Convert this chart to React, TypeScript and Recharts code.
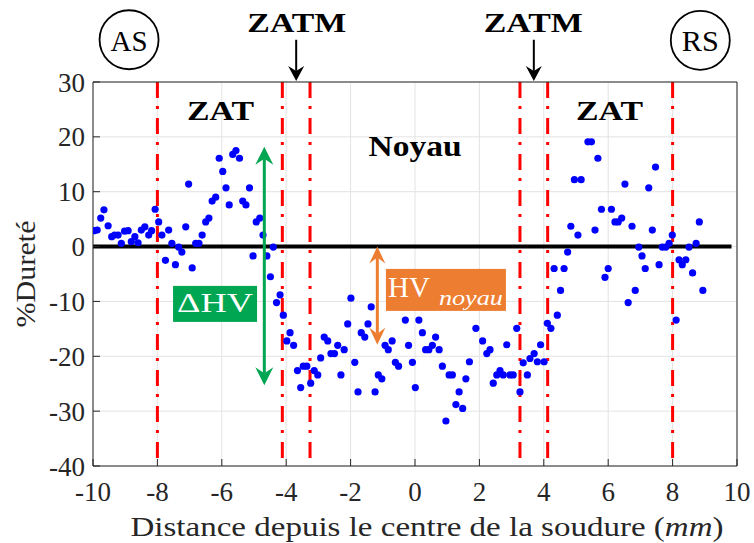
import {
  ScatterChart,
  Scatter,
  XAxis,
  YAxis,
  CartesianGrid,
  ReferenceLine,
  ReferenceDot,
} from "recharts";

// distance from weld centre (mm)
const positions = [
  -9.97, -9.87, -9.76, -9.66, -9.53, -9.42, -9.33, -9.22, -9.12, -9.02,
  -8.91, -8.81, -8.7, -8.6, -8.5, -8.39, -8.27, -8.18, -8.07, -7.96,
  -7.86, -7.75, -7.65, -7.55, -7.44, -7.34, -7.24, -7.12, -7.03, -6.92,
  -6.81, -6.71, -6.61, -6.5, -6.4, -6.3, -6.19, -6.08, -5.97, -5.87,
  -5.77, -5.66, -5.56, -5.45, -5.35, -5.25, -5.14, -5.03, -4.93, -4.82,
  -4.72, -4.6, -4.49, -4.4, -4.3, -4.19, -4.09, -3.98, -3.88, -3.77,
  -3.65, -3.55, -3.47, -3.36, -3.24, -3.13, -3.02, -2.93, -2.82, -2.71,
  -2.61, -2.5, -2.4, -2.3, -2.2, -2.09, -1.99, -1.87, -1.77, -1.67,
  -1.56, -1.46, -1.36, -1.24, -1.14, -1.03, -0.93, -0.83, -0.71, -0.61,
  -0.51, -0.3, -0.2, -0.08, 0.01, 0.12, 0.23, 0.33, 0.43, 0.54,
  0.64, 0.75, 0.85, 0.96, 1.06, 1.16, 1.27, 1.37, 1.48, 1.58,
  1.69, 1.89, 2.1, 2.23, 2.33, 2.43, 2.54, 2.64, 2.74, 2.85,
  2.95, 3.05, 3.16, 3.26, 3.36, 3.49, 3.57, 3.7, 3.8, 3.9,
  4.01, 4.11, 4.22, 4.32, 4.42, 4.52, 4.63, 4.74, 4.84, 4.95,
  5.06, 5.16, 5.37, 5.48, 5.59, 5.68, 5.79, 5.9, 6.0, 6.1,
  6.21, 6.31, 6.42, 6.52, 6.62, 6.74, 6.84, 6.95, 7.05, 7.15,
  7.26, 7.37, 7.47, 7.58, 7.68, 7.79, 7.89, 7.99, 8.11, 8.2,
  8.3, 8.41, 8.51, 8.62, 8.73, 8.83, 8.94,
];

// hardness variation (%)
const hardness = [
  2.9, 3.0, 5.2, 6.7, 3.8, 1.8, 2.1, 2.1, 0.6, 2.8,
  2.9, 0.9, 1.8, 0.7, 3.0, 3.6, 2.1, 2.9, 6.8, 4.5,
  2.1, -2.5, 3.0, 0.6, -3.3, -0.1, -1.0, 3.6, 11.4, -3.9,
  0.6, 0.6, 2.1, 4.5, 5.2, 8.3, 9.0, 16.1, 13.7, 10.7,
  7.6, 16.8, 17.5, 16.1, 8.3, 7.6, 10.7, -1.7, 4.5, 5.2,
  2.1, -1.7, -5.5, -0.1, -10.2, -8.8, -12.5, -17.2, -15.7, -18.0,
  -22.6, -25.7, -21.8, -21.8, -24.9, -22.6, -23.4, -20.3, -16.5, -17.2,
  -19.5, -19.5, -18.0, -23.4, -18.8, -14.1, -9.4, -21.1, -26.5, -15.7,
  -16.5, -14.1, -11.0, -26.5, -23.4, -24.1, -18.0, -18.8, -17.2, -21.1,
  -21.8, -13.4, -18.0, -21.1, -25.7, -13.4, -15.7, -18.8, -18.8, -18.0,
  -16.5, -18.8, -21.8, -31.8, -23.4, -23.4, -28.8, -26.5, -29.5, -24.1,
  -21.0, -14.9, -17.2, -19.5, -18.8, -24.9, -23.4, -22.6, -23.4, -17.9,
  -23.4, -23.4, -14.9, -26.5, -21.2, -23.4, -20.4, -19.5, -21.0, -17.9,
  -21.0, -14.0, -14.9, -4.0, -12.5, -8.0, -4.0, -1.0, 3.7, 12.2,
  2.1, 12.2, 19.1, 19.1, 3.0, 16.1, 6.8, -5.6, -4.0, 6.8,
  4.5, 4.5, 5.2, 11.4, -10.2, 3.7, -8.0, -0.1, -1.7, -4.0,
  10.7, 3.0, 14.5, -3.3, -0.1, -0.1, 0.6, 2.1, -13.4, -2.4,
  -3.3, -2.4, -0.1, -4.8, 0.6, 4.5, -8.0,
];

const xTicks = [-10, -8, -6, -4, -2, 0, 2, 4, 6, 8, 10];
const yTicks = [-40, -30, -20, -10, 0, 10, 20, 30];
const zoneBounds = [-8, -4.12, -3.26, 3.26, 4.12, 8];

const points = positions.map((x, i) => ({ x, y: hardness[i] }));

const FONT = "'Liberation Serif', 'Times New Roman', serif";
const AXIS_COLOR = "#262626";
const GREEN = "#00A651";
const ORANGE = "#ED7D31";

function arrowHead(
  tipX: number,
  tipY: number,
  ux: number,
  uy: number,
  len: number,
  half: number,
  notch: number,
  color: string
) {
  const bx = tipX - ux * len;
  const by = tipY - uy * len;
  const nx = -uy;
  const ny = ux;
  const pts = [
    [tipX, tipY],
    [bx + nx * half, by + ny * half],
    [tipX - ux * notch, tipY - uy * notch],
    [bx - nx * half, by - ny * half],
  ]
    .map((p) => p.join(","))
    .join(" ");
  return <polygon points={pts} fill={color} />;
}

function makeArrow(
  color: string,
  width: number,
  len: number,
  half: number,
  notch: number,
  both: boolean
) {
  return (props: any) => {
    const { x1, y1, x2, y2 } = props;
    const L = Math.hypot(x2 - x1, y2 - y1) || 1;
    const ux = (x2 - x1) / L;
    const uy = (y2 - y1) / L;
    const sx = both ? x1 + ux * notch : x1;
    const sy = both ? y1 + uy * notch : y1;
    return (
      <g>
        <line
          x1={sx}
          y1={sy}
          x2={x2 - ux * notch}
          y2={y2 - uy * notch}
          stroke={color}
          strokeWidth={width}
        />
        {arrowHead(x2, y2, ux, uy, len, half, notch, color)}
        {both && arrowHead(x1, y1, -ux, -uy, len, half, notch, color)}
      </g>
    );
  };
}

const zatmArrow = makeArrow("#000", 2, 15, 8, 10, false);
const deltaArrow = makeArrow(GREEN, 3, 18, 9, 12, true);
const coreArrow = makeArrow(ORANGE, 3, 17, 8, 11, true);

function textAt(label: string, size: number, bold: boolean, len: number) {
  return (p: any) => (
    <text
      x={p.cx}
      y={p.cy}
      textAnchor="middle"
      fontFamily={FONT}
      fontSize={size}
      fontWeight={bold ? 700 : 400}
      textLength={len}
      lengthAdjust="spacingAndGlyphs"
      fill="#000"
    >
      {label}
    </text>
  );
}

function circledAt(label: string) {
  return (p: any) => (
    <g>
      <circle cx={p.cx} cy={p.cy} r={29.5} fill="none" stroke="#000" strokeWidth={1.8} />
      <text
        x={p.cx}
        y={p.cy + 11}
        textAnchor="middle"
        fontFamily={FONT}
        fontSize={29}
        textLength={37}
        lengthAdjust="spacingAndGlyphs"
        fill="#000"
      >
        {label}
      </text>
    </g>
  );
}

const deltaBox = (p: any) => (
  <g>
    <rect x={p.cx - 42} y={p.cy - 18} width={84} height={36} fill={GREEN} />
    <text
      x={p.cx}
      y={p.cy + 8}
      textAnchor="middle"
      fontFamily={FONT}
      fontSize={27}
      textLength={76}
      lengthAdjust="spacingAndGlyphs"
      fill="#fff"
    >
      ΔHV
    </text>
  </g>
);

const coreBox = (p: any) => (
  <g>
    <rect x={p.cx - 60} y={p.cy - 21} width={120} height={42} fill={ORANGE} />
    <text
      x={p.cx - 58}
      y={p.cy + 7.5}
      fontFamily={FONT}
      fontSize={29}
      textLength={42}
      lengthAdjust="spacingAndGlyphs"
      fill="#fff"
    >
      HV
    </text>
    <text
      x={p.cx - 7}
      y={p.cy + 15}
      fontFamily={FONT}
      fontSize={22}
      fontStyle="italic"
      textLength={64}
      lengthAdjust="spacingAndGlyphs"
      fill="#fff"
    >
      noyau
    </text>
  </g>
);

const xTitle = (props: any) => {
  const vb = props.viewBox;
  return (
    <text
      x={vb.x + vb.width / 2 + 12}
      y={536}
      textAnchor="middle"
      fontFamily={FONT}
      fontSize={27}
      fill={AXIS_COLOR}
      textLength={593}
      lengthAdjust="spacingAndGlyphs"
    >
      Distance depuis le centre de la soudure (<tspan fontStyle="italic">mm</tspan>)
    </text>
  );
};

const yTitle = (props: any) => {
  const vb = props.viewBox;
  const cy = vb.y + vb.height / 2;
  return (
    <text
      x={35}
      y={cy}
      transform={`rotate(-90, 35, ${cy})`}
      textAnchor="middle"
      fontFamily={FONT}
      fontSize={27}
      fill={AXIS_COLOR}
      textLength={107}
      lengthAdjust="spacingAndGlyphs"
    >
      %Dureté
    </text>
  );
};

export default function App() {
  const tickStyle = { fontSize: 27, fill: AXIS_COLOR, fontFamily: FONT };
  return (
    <div style={{ position: "absolute", left: 0, top: 0, background: "#fff" }}>
      <ScatterChart
        width={754}
        height={543}
        margin={{ top: 81, right: 16, bottom: 0, left: 0 }}
      >
        <CartesianGrid stroke="#e3e3e3" strokeWidth={1} />
        <XAxis
          dataKey="x"
          type="number"
          domain={[-10, 10]}
          ticks={xTicks}
          interval={0}
          height={77}
          tickSize={-7}
          tickMargin={23}
          stroke={AXIS_COLOR}
          tick={tickStyle}
          allowDataOverflow
          label={xTitle}
        />
        <XAxis
          xAxisId="top"
          orientation="top"
          type="number"
          domain={[-10, 10]}
          ticks={xTicks}
          interval={0}
          height={1}
          tickSize={-7}
          tick={false}
          stroke={AXIS_COLOR}
        />
        <YAxis
          dataKey="y"
          type="number"
          domain={[-40, 30]}
          ticks={yTicks}
          interval={0}
          width={93}
          tickSize={-7}
          tickMargin={15}
          stroke={AXIS_COLOR}
          tick={tickStyle}
          allowDataOverflow
          label={yTitle}
        />
        <YAxis
          yAxisId="right"
          orientation="right"
          type="number"
          domain={[-40, 30]}
          ticks={yTicks}
          interval={0}
          width={1}
          tickSize={-7}
          tick={false}
          stroke={AXIS_COLOR}
        />

        {zoneBounds.map((b) => (
          <ReferenceLine
            key={b}
            segment={[
              { x: b, y: 30 },
              { x: b, y: -40 },
            ]}
            stroke="#FF0000"
            strokeWidth={3}
            strokeDasharray="16 8 3 9"
            zIndex={350}
          />
        ))}
        <ReferenceLine
          segment={[
            { x: -10, y: 0 },
            { x: 9.83, y: 0 },
          ]}
          stroke="#000"
          strokeWidth={4}
          zIndex={360}
        />

        <Scatter
          data={points}
          isAnimationActive={false}
          zIndex={600}
          shape={(p: any) => <circle cx={p.cx} cy={p.cy} r={3.6} fill="#0000FF" />}
        />

        {/* zone annotations */}
        <ReferenceLine
          segment={[
            { x: -4.68, y: 18.2 },
            { x: -4.68, y: -25.3 },
          ]}
          shape={deltaArrow}
          ifOverflow="visible"
          zIndex={700}
        />
        <ReferenceLine
          segment={[
            { x: -1.17, y: 0 },
            { x: -1.17, y: -17.9 },
          ]}
          shape={coreArrow}
          ifOverflow="visible"
          zIndex={700}
        />
        <ReferenceLine
          segment={[
            { x: -3.69, y: 37.7 },
            { x: -3.69, y: 30.2 },
          ]}
          shape={zatmArrow}
          ifOverflow="visible"
          zIndex={700}
        />
        <ReferenceLine
          segment={[
            { x: 3.69, y: 37.7 },
            { x: 3.69, y: 30.2 },
          ]}
          shape={zatmArrow}
          ifOverflow="visible"
          zIndex={700}
        />
        <ReferenceDot x={-3.67} y={39.2} ifOverflow="visible" zIndex={700} shape={textAt("ZATM", 28, true, 99)} />
        <ReferenceDot x={3.67} y={39.2} ifOverflow="visible" zIndex={700} shape={textAt("ZATM", 28, true, 99)} />
        <ReferenceDot x={-6.04} y={23.1} ifOverflow="visible" zIndex={700} shape={textAt("ZAT", 28, true, 67)} />
        <ReferenceDot x={6.04} y={23.1} ifOverflow="visible" zIndex={700} shape={textAt("ZAT", 28, true, 67)} />
        <ReferenceDot x={0} y={16.6} ifOverflow="visible" zIndex={700} shape={textAt("Noyau", 29, true, 93)} />
        <ReferenceDot x={-8.88} y={37.7} ifOverflow="visible" zIndex={700} shape={circledAt("AS")} />
        <ReferenceDot x={8.86} y={37.6} ifOverflow="visible" zIndex={700} shape={circledAt("RS")} />
        <ReferenceDot x={-6.21} y={-10.45} ifOverflow="visible" zIndex={700} shape={deltaBox} />
        <ReferenceDot x={0.96} y={-7.9} ifOverflow="visible" zIndex={700} shape={coreBox} />
      </ScatterChart>
    </div>
  );
}
